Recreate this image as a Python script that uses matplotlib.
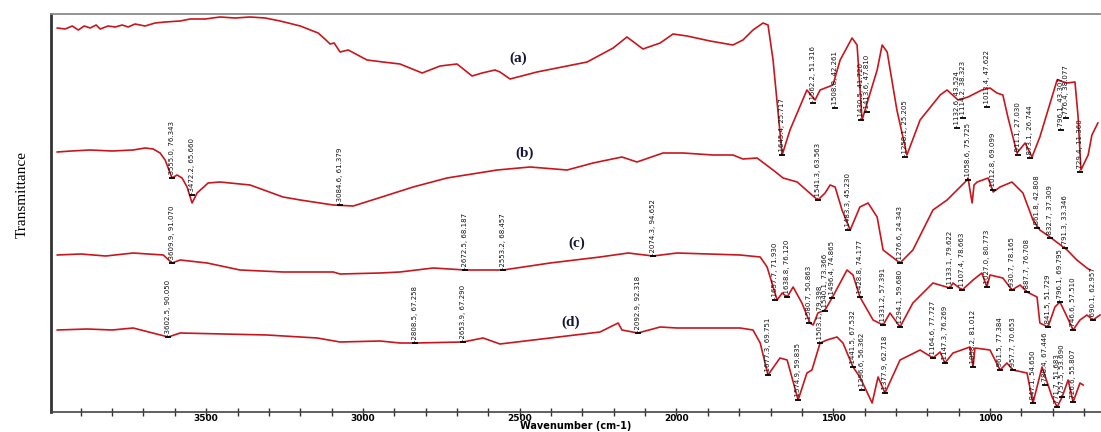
import matplotlib
matplotlib.use("Agg")
import matplotlib.pyplot as plt
from matplotlib import font_manager
from matplotlib.ticker import MultipleLocator, NullFormatter

# FTIR spectra, (wavenumber cm-1, offset transmittance a.u.)
curve_a = [(3975, 384), (3950, 383), (3927, 386), (3908, 382), (3889, 386), (3870, 384),
           (3851, 387), (3838, 383), (3813, 386), (3790, 385), (3768, 387), (3749, 385),
           (3727, 388), (3695, 386), (3663, 389), (3631, 390), (3583, 391), (3551, 393),
           (3503, 393), (3456, 395), (3408, 394), (3360, 395), (3312, 394), (3264, 391),
           (3200, 386), (3143, 379), (3118, 372), (3105, 368), (3092, 369), (3073, 360),
           (3047, 362), (2987, 352), (2936, 350), (2882, 348), (2811, 339), (2754, 346),
           (2700, 348), (2652, 336), (2620, 339), (2579, 342), (2563, 340), (2531, 333),
           (2445, 340), (2285, 350), (2202, 364), (2158, 375), (2107, 363), (2052, 369),
           (2011, 378), (1966, 376), (1893, 371), (1820, 367), (1788, 372), (1756, 382),
           (1724, 389), (1708, 387), (1692, 352), (1663, 257), (1638, 282), (1584, 322),
           (1558, 312), (1542, 322), (1501, 327), (1478, 352), (1440, 374), (1424, 367),
           (1408, 292), (1389, 312), (1360, 342), (1344, 367), (1328, 360), (1297, 302),
           (1265, 257), (1223, 292), (1159, 317), (1137, 322), (1102, 312), (1070, 315),
           (1026, 322), (1000, 324), (978, 319), (959, 317), (943, 295), (914, 259),
           (888, 269), (866, 255), (841, 275), (786, 332), (754, 329), (729, 330),
           (719, 295), (710, 242), (687, 257), (675, 277), (656, 289)]

curve_b = [(3975, 260), (3930, 261), (3870, 262), (3800, 261), (3733, 262), (3695, 264),
           (3669, 263), (3647, 259), (3631, 252), (3609, 234), (3593, 237), (3577, 234),
           (3561, 225), (3545, 209), (3529, 219), (3494, 229), (3456, 230), (3360, 227),
           (3255, 215), (3200, 212), (3095, 207), (3031, 206), (2950, 214), (2840, 225),
           (2732, 234), (2572, 242), (2467, 245), (2349, 242), (2266, 249), (2174, 255),
           (2126, 250), (2043, 259), (1979, 259), (1883, 257), (1820, 257), (1788, 253),
           (1743, 254), (1692, 242), (1660, 234), (1615, 230), (1568, 217), (1549, 212),
           (1526, 219), (1510, 227), (1494, 225), (1472, 202), (1446, 182), (1415, 205),
           (1389, 209), (1360, 195), (1341, 162), (1287, 149), (1246, 162), (1182, 202),
           (1137, 212), (1073, 232), (1070, 234), (1064, 222), (1057, 209), (1051, 227),
           (1041, 230), (1006, 234), (990, 220), (968, 225), (930, 230), (895, 219),
           (863, 192), (841, 182), (809, 175), (754, 162), (723, 152), (691, 144), (681, 142)]

curve_c = [(3975, 157), (3900, 158), (3820, 156), (3733, 159), (3637, 157), (3609, 149),
           (3583, 152), (3497, 149), (3392, 142), (3255, 140), (3095, 140), (3073, 138),
           (2945, 139), (2882, 140), (2776, 144), (2674, 142), (2553, 142), (2403, 149),
           (2244, 155), (2154, 159), (2075, 156), (1998, 159), (1797, 157), (1733, 155),
           (1711, 145), (1679, 112), (1663, 119), (1647, 115), (1628, 125), (1600, 109),
           (1574, 89), (1564, 87), (1549, 99), (1526, 102), (1504, 114), (1456, 142),
           (1437, 137), (1415, 115), (1373, 92), (1341, 87), (1319, 99), (1287, 85),
           (1246, 109), (1182, 129), (1128, 124), (1118, 129), (1089, 122), (1054, 132),
           (1026, 139), (1010, 125), (1000, 137), (959, 134), (930, 122), (904, 127),
           (882, 120), (850, 115), (841, 89), (815, 85), (793, 105), (777, 110),
           (754, 95), (735, 82), (713, 92), (691, 97), (672, 92), (649, 97)]

curve_d = [(3975, 82), (3880, 83), (3800, 82), (3733, 84), (3621, 75), (3583, 79),
           (3306, 77), (3146, 74), (3073, 70), (2945, 71), (2882, 69), (2834, 69),
           (2681, 70), (2617, 74), (2563, 68), (2403, 74), (2244, 80), (2186, 89),
           (2174, 82), (2123, 79), (2052, 85), (1998, 84), (1797, 84), (1756, 82),
           (1733, 69), (1708, 37), (1670, 54), (1647, 52), (1612, 12), (1584, 39),
           (1568, 42), (1542, 69), (1520, 72), (1488, 75), (1469, 69), (1437, 45),
           (1415, 35), (1376, 9), (1357, 35), (1335, 19), (1287, 52), (1223, 62),
           (1182, 54), (1159, 60), (1144, 49), (1118, 59), (1064, 65), (1054, 45),
           (1048, 64), (1000, 62), (968, 42), (946, 49), (927, 42), (882, 39),
           (863, 9), (834, 45), (802, 15), (786, 5), (770, 15), (751, 32),
           (735, 10), (713, 29), (703, 27)]

# peak labels: (position cm-1, level a.u., text)
peaks_a = [(1663, 257, "1645.4, 25.717"), (1564, 309, "1562.2, 51.316"),
           (1494, 304, "1508.8, 42.261"), (1411, 292, "1430.5, 41.720"),
           (1392, 300, "1413.6, 47.810"), (1271, 255, "1258.1, 25.205"),
           (1105, 284, "1132.6, 43.524"), (1086, 294, "1114.2, 38.323"),
           (1010, 305, "1013.4, 47.622"), (911, 257, "911.1, 27.030"),
           (872, 254, "873.1, 26.744"), (774, 282, "796.1, 43.307"),
           (758, 294, "776.4, 38.077"), (713, 240, "729.4, 11.360")]

peaks_b = [(3609, 234, "3555.0, 76.343"), (3545, 217, "3472.2, 65.660"),
           (3073, 207, "3084.6, 61.379"), (1549, 212, "1541.3, 63.563"),
           (1453, 182, "1483.3, 45.230"), (1287, 149, "1276.6, 24.343"),
           (1070, 232, "1058.6, 75.725"), (990, 222, "1012.8, 69.099"),
           (850, 184, "861.8, 42.808"), (809, 174, "832.7, 37.309"),
           (761, 164, "791.3, 33.346")]

peaks_c = [(3609, 149, "3609.9, 91.070"), (2674, 142, "2672.5, 68.187"),
           (2553, 142, "2553.2, 68.457"), (2075, 156, "2074.3, 94.652"),
           (1686, 112, "1657.7, 71.930"), (1647, 115, "1638.8, 76.120"),
           (1576, 89, "1580.7, 50.863"), (1527, 101, "1540.1, 73.366"),
           (1504, 114, "1496.4, 74.865"), (1415, 115, "1428.8, 74.177"),
           (1341, 87, "1331.2, 57.391"), (1287, 85, "1294.1, 59.680"),
           (1128, 124, "1133.1, 79.622"), (1089, 122, "1107.4, 78.663"),
           (1010, 125, "1027.0, 80.773"), (930, 122, "930.7, 78.165"),
           (882, 120, "887.7, 76.708"), (815, 85, "841.5, 51.729"),
           (777, 110, "796.1, 69.795"), (735, 82, "746.6, 57.510"),
           (672, 92, "690.1, 62.957")]

peaks_d = [(3621, 75, "3602.5, 90.050"), (2834, 69, "2808.5, 67.258"),
           (2681, 70, "2653.9, 67.290"), (2123, 79, "2092.9, 92.318"),
           (1708, 37, "1677.3, 69.751"), (1612, 12, "1574.9, 59.835"),
           (1542, 69, "1503.1, 79.398"), (1437, 45, "1441.5, 67.532"),
           (1408, 22, "1396.6, 56.362"), (1335, 19, "1377.9, 62.718"),
           (1182, 54, "1164.6, 77.727"), (1144, 49, "1147.3, 76.269"),
           (1054, 45, "1058.2, 81.012"), (968, 42, "961.5, 77.384"),
           (927, 42, "957.7, 70.653"), (863, 9, "847.1, 54.650"),
           (825, 27, "788.4, 67.446"), (786, 5, "771.7, 51.683"),
           (770, 15, "757.5, 53.690"), (735, 10, "726.6, 55.807")]

names = ["(a)", "(b)", "(c)", "(d)"]
name_pos = [(2505, 354), (2483, 259), (2317, 169), (2339, 90)]

installed = {f.name for f in font_manager.fontManager.ttflist}
if "Liberation Sans Narrow" in installed:
    peak_font, peak_fs = "Liberation Sans Narrow", 6
else:
    peak_font, peak_fs = "DejaVu Sans", 5

red = "#c8161d"

fig = plt.figure(figsize=(11.01, 4.32), dpi=100)
ax = fig.add_axes([51 / 1101, 20 / 432, 1 - 51 / 1101, 398 / 432])

for curve, peaks in [(curve_a, peaks_a), (curve_b, peaks_b),
                     (curve_c, peaks_c), (curve_d, peaks_d)]:
    xs = [p[0] for p in curve]
    ys = [p[1] for p in curve]
    ax.plot(xs, ys, color=red, lw=1.2)
    ax.plot([p[0] for p in peaks], [p[1] for p in peaks], ls="none",
            marker="_", color="k", ms=5, mew=1.3)
    for wn, lvl, txt in peaks:
        ax.annotate("-" + txt, (wn, lvl), xytext=(0, 0.5), textcoords="offset points",
                    rotation=90, ha="center", va="bottom", fontsize=peak_fs,
                    family=peak_font, color="#111111")

for name, (wn, lvl) in zip(names, name_pos):
    ax.text(wn, lvl, name, ha="center", va="center", fontsize=11, fontweight="bold",
            family="Liberation Serif", color="#15153a")

ax.set_xlim(3995, 646)
ax.set_ylim(0, 398)
ax.set_yticks([])

ax.xaxis.set_major_locator(MultipleLocator(500))
ax.xaxis.set_minor_locator(MultipleLocator(100))
ax.xaxis.set_minor_formatter(NullFormatter())
ax.tick_params(axis="x", which="both", direction="inout", length=6, width=1,
               color="#333333", pad=-1.5, labelsize=6.5)
for lab in ax.get_xticklabels():
    lab.set_fontweight("bold")

ax.spines["right"].set_visible(False)
ax.spines["left"].set_linewidth(2)
ax.spines["left"].set_color("#333333")
ax.spines["top"].set_linewidth(1.3)
ax.spines["top"].set_color("#8a8a8a")
ax.spines["bottom"].set_linewidth(1.2)
ax.spines["bottom"].set_color("#444444")

ax.set_xlabel("Wavenumber (cm-1)", fontsize=7, fontweight="bold", labelpad=-1.5)
fig.text(22 / 1101, 1 - 194 / 432, "Transmittance", rotation=90, ha="center",
         va="center", fontsize=11, family="Liberation Serif")

fig.savefig("out.png", dpi=100)
